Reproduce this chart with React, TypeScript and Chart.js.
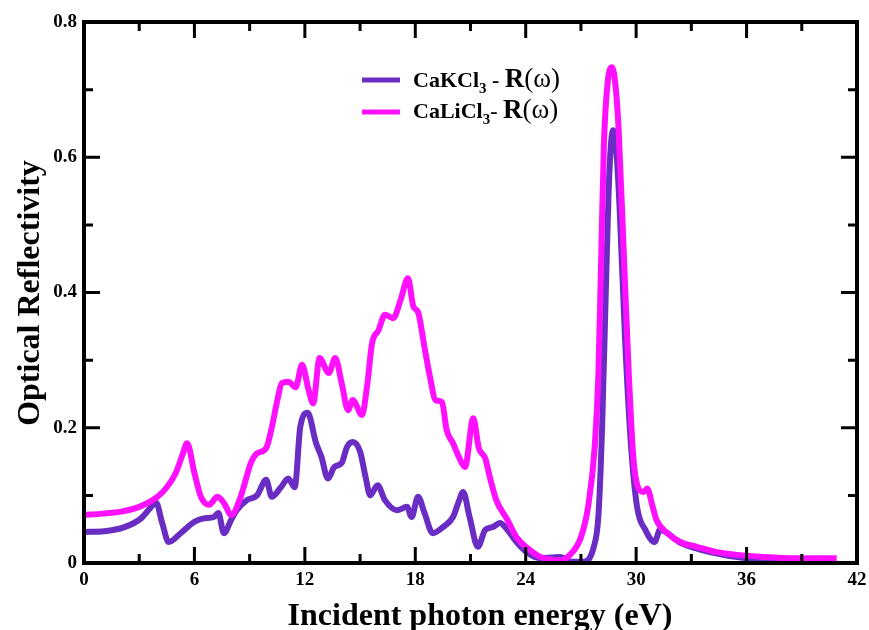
import { useEffect, useRef } from "react";
import { Chart, registerables } from "chart.js";

Chart.register(...registerables);

// ---- data ----
const kclEnergy = [
  0, 1.1, 2.2, 3.1, 3.65, 3.9, 4.25, 4.6, 5.25, 6.0, 6.5, 7.05, 7.3, 7.6, 8.0, 8.3, 8.85, 9.4, 9.9,
  10.2, 10.7, 11.1, 11.45, 11.75, 12.15, 12.6, 12.9, 13.25, 13.6, 14.0, 14.3, 14.6, 15.0, 15.3,
  15.55, 15.95, 16.35, 17.0, 17.55, 17.8, 18.15, 18.5, 18.95, 19.5, 20.05, 20.35, 20.6, 20.95,
  21.4, 21.8, 22.2, 22.6, 23.0, 23.5, 24.1, 24.8, 25.4, 25.9, 26.4, 27.1, 27.7, 27.95, 28.15,
  28.35, 28.55, 28.75, 28.95, 29.1, 29.4, 29.7, 30.05, 30.5, 31.0, 31.3, 32.4, 34.2, 36.0, 38.0,
  40.8,
];
const kclReflectivity = [
  0.046, 0.047, 0.053, 0.066, 0.083, 0.09, 0.059, 0.031, 0.044, 0.061, 0.066, 0.068, 0.074, 0.044,
  0.064, 0.078, 0.093, 0.1, 0.123, 0.098, 0.112, 0.125, 0.112, 0.201, 0.222, 0.178, 0.157, 0.125,
  0.142, 0.148, 0.172, 0.179, 0.165, 0.127, 0.1, 0.115, 0.093, 0.078, 0.083, 0.068, 0.098, 0.074,
  0.044, 0.053, 0.068, 0.09, 0.105, 0.068, 0.024, 0.049, 0.053, 0.059, 0.049, 0.031, 0.015, 0.007,
  0.008, 0.009, 0.002, 0.002, 0.024, 0.07, 0.2, 0.4, 0.58, 0.64, 0.6, 0.526, 0.33, 0.182, 0.083,
  0.049, 0.031, 0.049, 0.03, 0.015, 0.007, 0.005, 0.004,
];
const liclEnergy = [
  0, 1, 2, 3, 4, 4.5, 5.0, 5.35, 5.6, 6.0, 6.35, 6.8, 7.25, 7.6, 8.0, 8.5, 9.07, 9.4, 9.9, 10.2,
  10.5, 10.75, 11.1, 11.5, 11.85, 12.2, 12.45, 12.8, 13.3, 13.65, 14.0, 14.35, 14.6, 15.1, 15.4,
  15.65, 16.0, 16.35, 16.8, 17.2, 17.6, 17.9, 18.15, 18.5, 18.8, 19.1, 19.45, 19.7, 20.05, 20.4,
  20.7, 21.15, 21.45, 21.8, 22.05, 22.4, 23.0, 23.5, 24.1, 24.8, 25.9, 26.4, 27.0, 27.4, 27.75,
  27.95, 28.1, 28.25, 28.45, 28.7, 28.9, 29.05, 29.3, 29.6, 29.85, 30.1, 30.4, 30.6, 30.9, 31.1,
  31.7, 32.4, 33.3, 34.4, 35.5, 36.9, 38.75, 40.9,
];
const liclReflectivity = [
  0.071, 0.073, 0.076, 0.083, 0.098, 0.112, 0.134, 0.16, 0.177, 0.133, 0.098, 0.086, 0.098, 0.089,
  0.071, 0.097, 0.148, 0.162, 0.17, 0.2, 0.24, 0.266, 0.268, 0.26, 0.293, 0.256, 0.236, 0.303,
  0.281, 0.303, 0.266, 0.226, 0.241, 0.219, 0.266, 0.325, 0.344, 0.367, 0.362, 0.389, 0.421, 0.379,
  0.371, 0.319, 0.275, 0.241, 0.238, 0.197, 0.177, 0.155, 0.142, 0.214, 0.17, 0.155, 0.127, 0.093,
  0.064, 0.038, 0.022, 0.009, 0.004, 0.012, 0.038, 0.085, 0.172, 0.28, 0.45, 0.62, 0.71, 0.733,
  0.7, 0.64, 0.477, 0.28, 0.155, 0.112, 0.105, 0.11, 0.083, 0.064, 0.044, 0.031, 0.024, 0.016,
  0.012, 0.009, 0.007, 0.007,
];

const xMajorTicks = [0, 6, 12, 18, 24, 30, 36, 42];
const xMinorTicks = [3, 9, 15, 21, 27, 33, 39];
const yMajorTicks = [0, 0.2, 0.4, 0.6, 0.8];
const yMinorTicks = [0.1, 0.3, 0.5, 0.7];

const seriesNames = ["CaKCl", "CaLiCl"];
const PURPLE = "#6a2dc3";
const MAGENTA = "#ff10ff";
const SERIF = '"Liberation Serif", "DejaVu Serif", serif';

const framePlugin = {
  id: "frameAndDecor",
  afterDraw(chart: any) {
    const { ctx, chartArea: a, scales } = chart;
    const xs = scales.x;
    const ys = scales.y;
    ctx.save();
    ctx.strokeStyle = "#000";
    // ticks (inward, all four sides)
    ctx.lineWidth = 3;
    ctx.lineCap = "butt";
    const vt = (vals: number[], len: number) => {
      vals.forEach((v) => {
        const px = xs.getPixelForValue(v);
        ctx.beginPath();
        ctx.moveTo(px, a.bottom);
        ctx.lineTo(px, a.bottom - len);
        ctx.moveTo(px, a.top);
        ctx.lineTo(px, a.top + len);
        ctx.stroke();
      });
    };
    const ht = (vals: number[], len: number) => {
      vals.forEach((v) => {
        const py = ys.getPixelForValue(v);
        ctx.beginPath();
        ctx.moveTo(a.left, py);
        ctx.lineTo(a.left + len, py);
        ctx.moveTo(a.right, py);
        ctx.lineTo(a.right - len, py);
        ctx.stroke();
      });
    };
    vt(xMajorTicks, 16);
    vt(xMinorTicks, 9);
    ht(yMajorTicks, 16);
    ht(yMinorTicks, 9);
    // frame
    ctx.lineWidth = 4;
    ctx.strokeRect(a.left, a.top, a.right - a.left, a.bottom - a.top);

    // axis titles
    ctx.fillStyle = "#000";
    ctx.font = `bold 32px ${SERIF}`;
    ctx.textAlign = "center";
    ctx.textBaseline = "alphabetic";
    ctx.fillText("Incident photon energy (eV)", 480, 625);
    ctx.save();
    ctx.translate(39, 293);
    ctx.rotate(-Math.PI / 2);
    ctx.fillText("Optical Reflectivity", 0, 0);
    ctx.restore();

    // legend
    const rows = [
      { color: PURPLE, name: seriesNames[0], y: 80, base: 87, sep: " - " },
      { color: MAGENTA, name: seriesNames[1], y: 112, base: 118, sep: "- " },
    ];
    rows.forEach((r) => {
      ctx.strokeStyle = r.color;
      ctx.lineWidth = 5;
      ctx.beginPath();
      ctx.moveTo(362, r.y);
      ctx.lineTo(400, r.y);
      ctx.stroke();
      ctx.textAlign = "left";
      let x = 413;
      ctx.font = `bold 22px ${SERIF}`;
      ctx.fillText(r.name, x, r.base);
      x += ctx.measureText(r.name).width;
      ctx.font = `bold 15px ${SERIF}`;
      ctx.fillText("3", x, r.base + 6);
      x += ctx.measureText("3").width;
      ctx.font = `bold 22px ${SERIF}`;
      ctx.fillText(r.sep, x, r.base);
      x += ctx.measureText(r.sep).width;
      ctx.font = `bold 27px ${SERIF}`;
      ctx.fillText("R", x, r.base);
      x += ctx.measureText("R").width;
      ctx.font = `27px ${SERIF}`;
      ctx.fillText("(ω)", x, r.base);
    });
    ctx.restore();
  },
};

export default function App() {
  const ref = useRef<HTMLCanvasElement | null>(null);
  useEffect(() => {
    document.body.style.margin = "0";
    const canvas = ref.current;
    if (!canvas) return;
    const chart = new Chart(canvas, {
      type: "line",
      data: {
        datasets: [
          {
            label: seriesNames[0] + "3 - R(ω)",
            data: kclEnergy.map((x, i) => ({ x, y: kclReflectivity[i] })),
            borderColor: PURPLE,
            backgroundColor: PURPLE,
            borderWidth: 6,
            pointRadius: 0,
            cubicInterpolationMode: "monotone",
            order: 2,
          },
          {
            label: seriesNames[1] + "3 - R(ω)",
            data: liclEnergy.map((x, i) => ({ x, y: liclReflectivity[i] })),
            borderColor: MAGENTA,
            backgroundColor: MAGENTA,
            borderWidth: 6,
            pointRadius: 0,
            cubicInterpolationMode: "monotone",
            order: 1,
          },
        ],
      },
      options: {
        responsive: false,
        animation: false,
        layout: { padding: { left: 0, right: 12, top: 22, bottom: 0 } },
        plugins: { legend: { display: false }, tooltip: { enabled: false } },
        scales: {
          x: {
            type: "linear",
            min: 0,
            max: 42,
            grid: { display: false, drawTicks: false },
            border: { display: false },
            ticks: {
              stepSize: 6,
              padding: 6,
              color: "#000",
              font: { family: SERIF, size: 19, weight: "bold" },
              callback: (v: any) => String(v),
            },
            afterFit: (s: any) => {
              s.height = 67;
              s.paddingLeft = 0;
              s.paddingRight = 0;
            },
          },
          y: {
            type: "linear",
            min: 0,
            max: 0.8,
            grid: { display: false, drawTicks: false },
            border: { display: false },
            ticks: {
              stepSize: 0.2,
              padding: 7,
              color: "#000",
              font: { family: SERIF, size: 19, weight: "bold" },
              callback: (v: any) => (v === 0 ? "0" : Number(v).toFixed(1)),
            },
            afterFit: (s: any) => {
              s.width = 84;
              s.paddingTop = 0;
              s.paddingBottom = 0;
            },
          },
        },
      },
      plugins: [framePlugin],
    } as any);
    return () => chart.destroy();
  }, []);
  return <canvas ref={ref} width={869} height={630} style={{ display: "block" }} />;
}
